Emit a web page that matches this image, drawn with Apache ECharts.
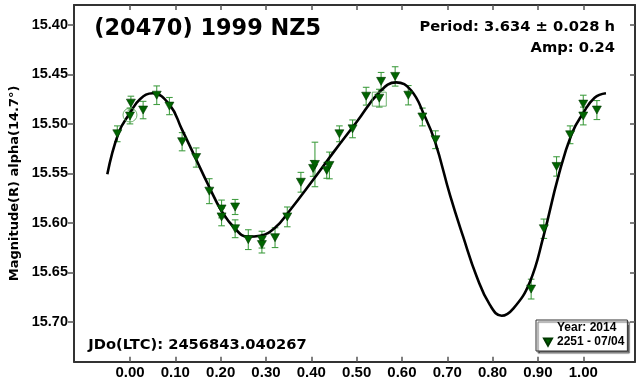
<!DOCTYPE html>
<html><head><meta charset="utf-8">
<script src="https://cdn.jsdelivr.net/npm/echarts@6/dist/echarts.min.js"></script>
<style>html,body{margin:0;padding:0;background:#fff}#c{width:637px;height:385px}</style>
</head><body><div id="c"></div>
<script>
// ---- data ----
const titleText = '(20470) 1999 NZ5';
const periodText = 'Period: 3.634 \u00b1 0.028 h';
const ampText = 'Amp: 0.24';
const jdText = 'JDo(LTC): 2456843.040267';
const yName = 'Magnitude(R) alpha(14.7\u00b0)';
const legendYear = 'Year: 2014';
const seriesName = '2251 - 07/04';

const phase = [-0.028, 0.002, 0.000, 0.029, 0.059, 0.087, 0.115, 0.146, 0.175, 0.202, 0.202, 0.232, 0.232, 0.261, 0.291, 0.291, 0.320, 0.347, 0.377, 0.404, 0.408, 0.434, 0.440, 0.462, 0.491, 0.521, 0.550, 0.554, 0.585, 0.614, 0.645, 0.674, 0.885, 0.913, 0.941, 0.971, 1.000, 1.000, 1.030];
const mag   = [15.510, 15.479, 15.492, 15.486, 15.471, 15.482, 15.518, 15.534, 15.568, 15.586, 15.594, 15.584, 15.606, 15.617, 15.617, 15.622, 15.615, 15.594, 15.559, 15.545, 15.541, 15.547, 15.542, 15.510, 15.505, 15.472, 15.474, 15.457, 15.452, 15.471, 15.493, 15.516, 15.667, 15.606, 15.543, 15.511, 15.480, 15.492, 15.486];
const err   = [0.008, 0.007, 0.008, 0.0088, 0.0094, 0.0087, 0.0092, 0.0097, 0.0126, 0.009, 0.009, 0.0076, 0.009, 0.010, 0.0085, 0.0085, 0.010, 0.010, 0.010, 0.008, 0.0225, 0.008, 0.0135, 0.008, 0.009, 0.009, 0.009, 0.009, 0.0098, 0.0098, 0.009, 0.009, 0.010, 0.0098, 0.0098, 0.009, 0.009, 0.009, 0.0096];

const circledPhase = [0.000];
const circledMag = [15.491];
const boxedPhase = [0.550];
const boxedMag = [15.475];

const fitPhase = [-0.05, -0.025, 0.0, 0.022, 0.05, 0.088, 0.114, 0.143, 0.173, 0.202, 0.232, 0.259, 0.287, 0.32, 0.35, 0.40, 0.45, 0.50, 0.55, 0.587, 0.62, 0.65, 0.673, 0.706, 0.735, 0.765, 0.794, 0.82, 0.846, 0.882, 0.912, 0.945, 0.975, 1.0, 1.025, 1.05];
const fitMag   = [15.551, 15.509, 15.489, 15.475, 15.469, 15.481, 15.505, 15.533, 15.562, 15.588, 15.606, 15.614, 15.613, 15.605, 15.589, 15.559, 15.528, 15.498, 15.468, 15.458, 15.466, 15.492, 15.518, 15.572, 15.614, 15.6545, 15.683, 15.694, 15.6865, 15.660, 15.614, 15.553, 15.5095, 15.489, 15.4735, 15.469];

const xTicks = [0.0, 0.1, 0.2, 0.3, 0.4, 0.5, 0.6, 0.7, 0.8, 0.9, 1.0];
const yTicks = [15.40, 15.45, 15.50, 15.55, 15.60, 15.65, 15.70];
const xRange = [-0.1235, 1.1141];
const yRange = [15.3798, 15.7404];

// ---- chart ----
const tickFont = 'Liberation Sans, Arial, sans-serif';
const wideFont = '"DejaVu Sans", Verdana, sans-serif';
const axisColor = '#333';
const triPath = 'path://M0,0L10,0L5,9Z';

const chart = echarts.init(document.getElementById('c'), null, {renderer: 'canvas'});

function xAxisDef(pos, labels) {
  return {
    type: 'value', position: pos, min: xRange[0], max: xRange[1],
    axisLine: {show: true, onZero: false, lineStyle: {color: axisColor, width: 2}},
    axisTick: {show: true, inside: true, length: 5, customValues: xTicks, lineStyle: {color: '#555', width: 1.5}},
    axisLabel: {show: labels, customValues: xTicks, formatter: v => v.toFixed(2), margin: 4,
      fontFamily: tickFont, fontWeight: 'bold', fontSize: 15, color: '#000'},
    splitLine: {show: false}
  };
}
function yAxisDef(pos, labels) {
  return {
    type: 'value', position: pos, inverse: true, min: yRange[0], max: yRange[1],
    axisLine: {show: true, onZero: false, lineStyle: {color: axisColor, width: 2}},
    axisTick: {show: true, inside: !labels, length: labels ? 6 : 5, customValues: yTicks, lineStyle: {color: '#555', width: 1.5}},
    axisLabel: {show: labels, customValues: yTicks, formatter: v => v.toFixed(2), margin: 6,
      fontFamily: tickFont, fontWeight: 'bold', fontSize: 14.5, color: '#000'},
    splitLine: {show: false},
    name: labels ? yName : '', nameLocation: 'middle', nameGap: 43,
    nameTextStyle: {fontFamily: wideFont, fontWeight: 'bold', fontSize: 13, color: '#000'}
  };
}

const option = {
  animation: false,
  backgroundColor: '#fff',
  grid: {left: 74, right: 2, top: 5, bottom: 23.3, containLabel: false, outerBoundsMode: 'none'},
  xAxis: [xAxisDef('bottom', true), xAxisDef('top', false)],
  yAxis: [yAxisDef('left', true), yAxisDef('right', false)],
  legend: {
    orient: 'vertical', left: 536, top: 320,
    padding: [2, 3, 3, 7], itemGap: 2, itemWidth: 8, itemHeight: 8, itemTextGap: 6,
    backgroundColor: '#fff', borderColor: '#333', borderWidth: 1, borderRadius: 0,
    shadowColor: 'rgba(0,0,0,0.6)', shadowOffsetX: 2, shadowOffsetY: 2, shadowBlur: 1,
    selectedMode: false,
    textStyle: {fontFamily: tickFont, fontWeight: 'bold', fontSize: 12, color: '#000', lineHeight: 12},
    data: [
      {name: legendYear, icon: 'none'},
      {name: seriesName, icon: triPath, itemStyle: {color: '#006400'}}
    ]
  },
  graphic: [
    {type: 'text', x: 94.3, y: 29.3, style: {text: titleText, font: 'bold 22.4px ' + wideFont, fill: '#000', align: 'left', verticalAlign: 'middle'}},
    {type: 'text', x: 615, y: 26.8, style: {text: periodText, font: 'bold 14.7px ' + wideFont, fill: '#000', align: 'right', verticalAlign: 'middle'}},
    {type: 'text', x: 615, y: 48, style: {text: ampText, font: 'bold 14.7px ' + wideFont, fill: '#000', align: 'right', verticalAlign: 'middle'}},
    {type: 'text', x: 88.3, y: 345.5, style: {text: jdText, font: 'bold 14.7px ' + wideFont, fill: '#000', align: 'left', verticalAlign: 'middle'}}
  ],
  series: [
    {
      name: 'fit', type: 'line', xAxisIndex: 0, yAxisIndex: 0,
      data: fitPhase.map((p, i) => [p, fitMag[i]]),
      smooth: 0.45, showSymbol: false, symbol: 'none',
      lineStyle: {color: '#000', width: 2.6}, z: 3, silent: true
    },
    {
      name: 'errors', type: 'custom', xAxisIndex: 0, yAxisIndex: 0,
      data: phase.map((p, i) => [p, mag[i] - err[i], mag[i] + err[i]]),
      encode: {x: 0, y: [1, 2]},
      renderItem: function (params, api) {
        const x = api.value(0);
        const a = api.coord([x, api.value(1)]);
        const b = api.coord([x, api.value(2)]);
        const cw = 3.3;
        const st = {stroke: '#3a9a3a', lineWidth: 1.1, opacity: 0.95};
        return {type: 'group', children: [
          {type: 'line', shape: {x1: a[0], y1: a[1], x2: b[0], y2: b[1]}, style: st},
          {type: 'line', shape: {x1: a[0] - cw, y1: a[1], x2: a[0] + cw, y2: a[1]}, style: st},
          {type: 'line', shape: {x1: b[0] - cw, y1: b[1], x2: b[0] + cw, y2: b[1]}, style: st}
        ]};
      },
      z: 2, silent: true
    },
    {
      name: seriesName, type: 'scatter', xAxisIndex: 0, yAxisIndex: 0,
      data: phase.map((p, i) => [p, mag[i]]),
      symbol: triPath, symbolSize: [9, 8],
      itemStyle: {color: '#006400', borderColor: '#003800', borderWidth: 0.6, opacity: 1},
      z: 4, silent: true
    },
    {
      name: 'circled', type: 'scatter', xAxisIndex: 0, yAxisIndex: 0,
      data: circledPhase.map((p, i) => [p, circledMag[i]]),
      symbol: 'circle', symbolSize: 14,
      itemStyle: {color: 'rgba(0,0,0,0)', borderColor: '#4ea04e', borderWidth: 1},
      z: 5, silent: true
    },
    {
      name: 'boxed', type: 'scatter', xAxisIndex: 0, yAxisIndex: 0,
      data: boxedPhase.map((p, i) => [p, boxedMag[i]]),
      symbol: 'rect', symbolSize: 14,
      itemStyle: {color: 'rgba(0,0,0,0)', borderColor: '#4ea04e', borderWidth: 1},
      z: 5, silent: true
    },
    {name: legendYear, type: 'scatter', data: [], xAxisIndex: 0, yAxisIndex: 0}
  ]
};
chart.setOption(option);
</script>
</body></html>
